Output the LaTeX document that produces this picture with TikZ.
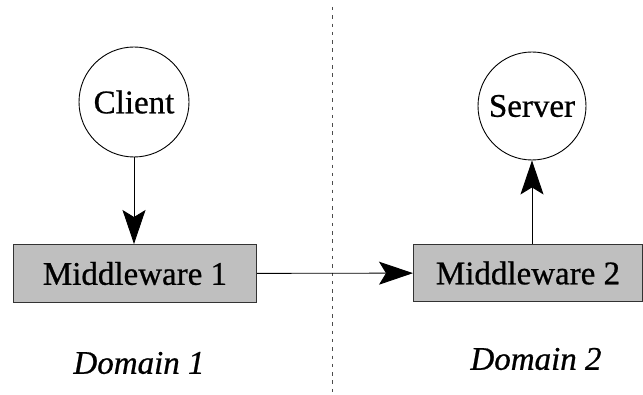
\documentclass[tikz,border=0pt]{standalone}
\usepackage{fontspec}
\setmainfont{Liberation Serif}
\newfontfamily\tnr[FakeBold=0.7]{Liberation Serif}
\usetikzlibrary{arrows.meta}
\begin{document}
\begin{tikzpicture}[x=1pt,y=-1pt,
  every node/.style={font=\tnr\fontsize{33}{38}\selectfont},
  actor/.style={circle,draw=black,line width=0.9pt,fill=white,inner sep=0pt},
  mware/.style={rectangle,draw=black!80,line width=1pt,fill=black!25,inner sep=0pt,anchor=north west},
  conn/.style={line width=0.9pt,-{Stealth[length=34pt,width=23pt,inset=7pt]}},
  domlabel/.style={font=\tnr\fontsize{33}{38}\selectfont\itshape}]
\useasboundingbox (0,0) rectangle (643,395);
\draw[black!70,line width=0.8pt,dash pattern=on 3.5pt off 4.8pt] (332,7) -- (332,395);
\node[actor,minimum size=110pt] (client) at (134,102) {Client};
\node[actor,minimum size=108pt] (server) at (532,106) {Server};
\node[mware,minimum width=243pt,minimum height=58pt] (mw1) at (13,244) {Middleware 1};
\node[mware,minimum width=229pt,minimum height=57pt] (mw2) at (413,244) {Middleware 2};
\draw[conn] (client) -- (client |- mw1.north);
\draw[conn] (mw1) -- (mw2);
\draw[conn] (server |- mw2.north) -- (server);
\node[domlabel] (d1) at (139,363) {Domain 1};
\node[domlabel] (d2) at (536,359) {Domain 2};
\end{tikzpicture}
\end{document}
